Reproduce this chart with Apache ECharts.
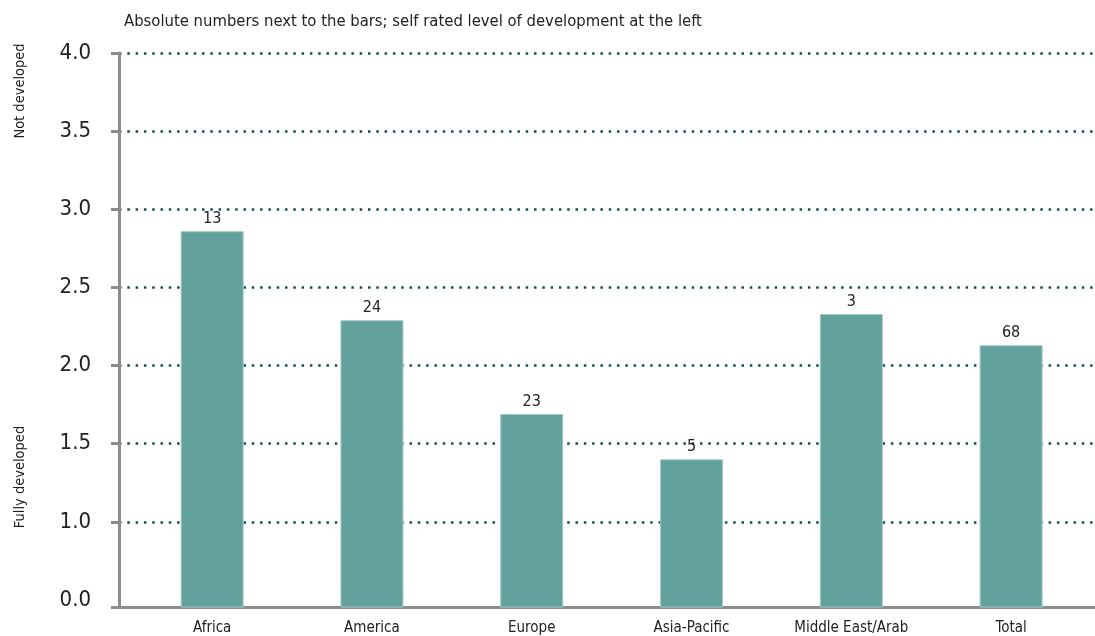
<!DOCTYPE html>
<html>
<head>
<meta charset="utf-8">
<script src="https://cdn.jsdelivr.net/npm/echarts@6/dist/echarts.min.js"></script>
<style>
html,body{margin:0;padding:0;background:#fff;}
#chart{width:1095px;height:636px;}
</style>
</head>
<body>
<div id="chart"></div>
<script>
// Data
const categories = ['Africa', 'America', 'Europe', 'Asia-Pacific', 'Middle East/Arab', 'Total'];
const levels = [2.86, 2.29, 1.69, 1.40, 2.33, 2.13];
const counts = [13, 24, 23, 5, 3, 68];
const yTickValues = [1.0, 1.5, 2.0, 2.5, 3.0, 3.5, 4.0];
const yLabelValues = [0.5, 1.0, 1.5, 2.0, 2.5, 3.0, 3.5, 4.0];
const yLabelTexts = ['0.0', '1.0', '1.5', '2.0', '2.5', '3.0', '3.5', '4.0'];
const titleText = 'Absolute numbers next to the bars; self rated level of development at the left';
const topNote = 'Not developed';
const bottomNote = 'Fully developed';

const FONT = '"Liberation Sans Narrow", "DejaVu Sans Condensed", "Liberation Sans", sans-serif';
const Y_MIN = 0.455, Y_MAX = 4.0;
const X_MIN = -0.583, X_MAX = 5.525;

const chart = echarts.init(document.getElementById('chart'), null, {renderer: 'canvas'});
const axisGrey = '#8c8c8c';

chart.setOption({
  backgroundColor: '#ffffff',
  animation: false,
  title: {
    text: titleText,
    left: 119, top: 8,
    textStyle: {fontFamily: FONT, fontSize: 16.5, fontWeight: 'normal', color: '#222'}
  },
  graphic: [
    {type: 'text', x: 20, y: 91, rotation: Math.PI / 2,
     style: {text: topNote, fontFamily: FONT, fontSize: 14.5, fill: '#222', align: 'center', verticalAlign: 'middle'}},
    {type: 'text', x: 20, y: 477, rotation: Math.PI / 2,
     style: {text: bottomNote, fontFamily: FONT, fontSize: 14.5, fill: '#222', align: 'center', verticalAlign: 'middle'}}
  ],
  grid: {left: 119, right: 0, top: 53, bottom: 29, containLabel: false},
  xAxis: {
    type: 'value', min: X_MIN, max: X_MAX,
    axisLine: {show: true, onZero: false, lineStyle: {color: axisGrey, width: 3}},
    axisTick: {show: false},
    splitLine: {show: false},
    axisLabel: {
      show: true, customValues: categories.map((c, i) => i),
      formatter: v => categories[Math.round(v)],
      fontFamily: FONT, fontSize: 15, color: '#222', margin: 14
    }
  },
  yAxis: [
    {
      type: 'value', min: Y_MIN, max: Y_MAX, position: 'left',
      axisLine: {show: true, onZero: false, lineStyle: {color: axisGrey, width: 3}},
      axisTick: {show: true, length: 8, customValues: [Y_MIN].concat(yTickValues), lineStyle: {color: axisGrey, width: 3}},
      splitLine: {show: false},
      axisLabel: {
        show: true, customValues: yLabelValues,
        formatter: v => yLabelTexts[yLabelValues.indexOf(v)] || '',
        fontFamily: FONT, fontSize: 22, color: '#222', margin: 28
      }
    },
    {
      type: 'value', min: Y_MIN, max: Y_MAX, position: 'left',
      axisLine: {show: false},
      axisTick: {show: false, customValues: yTickValues},
      axisLabel: {show: false},
      splitLine: {show: true, lineStyle: {color: '#14504f', width: 2.5, type: [2.5, 5.8], cap: 'butt'}}
    }
  ],
  series: [{
    type: 'bar',
    xAxisIndex: 0, yAxisIndex: 0,
    barWidth: 63,
    data: levels.map((v, i) => [i, v]),
    itemStyle: {color: '#63a19c', borderColor: '#a3c9c6', borderWidth: 1},
    label: {
      show: true, position: 'top', distance: 4,
      formatter: p => String(counts[p.dataIndex]),
      fontFamily: FONT, fontSize: 16, color: '#222'
    },
    z: 3
  }]
});
</script>
</body>
</html>
